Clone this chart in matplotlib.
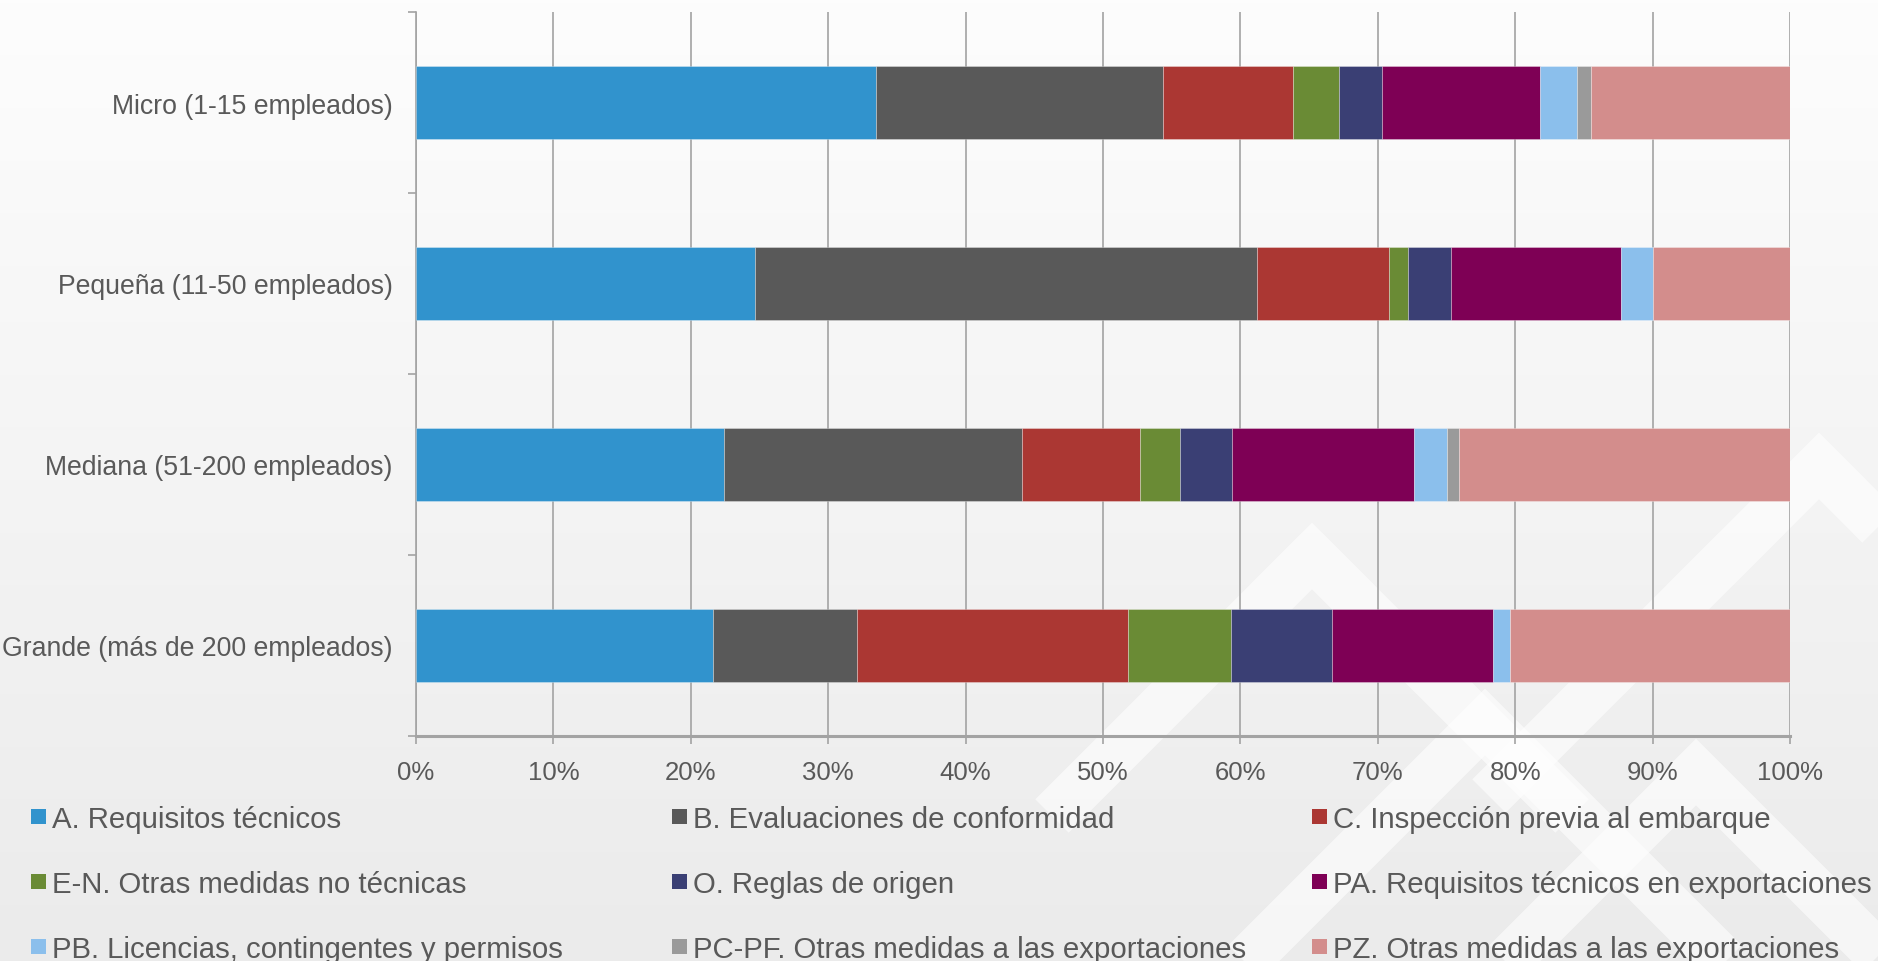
import numpy as np
import matplotlib
matplotlib.use("Agg")
import matplotlib.pyplot as plt
from matplotlib.patches import Rectangle
from matplotlib.colors import LinearSegmentedColormap

plt.rcParams["font.family"] = ["Liberation Sans", "DejaVu Sans"]

# ─── Datos ───────────────────────────────────────────────────────
categorias = [
    "Micro (1-15 empleados)",
    "Pequeña (11-50 empleados)",
    "Mediana (51-200 empleados)",
    "Grande (más de 200 empleados)",
]

series = [
    "A. Requisitos técnicos",
    "B. Evaluaciones de conformidad",
    "C. Inspección previa al embarque",
    "E-N. Otras medidas no técnicas",
    "O. Reglas de origen",
    "PA. Requisitos técnicos en exportaciones",
    "PB. Licencias, contingentes y permisos",
    "PC-PF. Otras medidas a las exportaciones",
    "PZ. Otras medidas a las exportaciones",
]

# porcentajes por categoría (Micro, Pequeña, Mediana, Grande)
a_req = [33.5, 24.7, 22.4, 21.6]
b_eval = [20.9, 36.5, 21.7, 10.5]
c_insp = [9.4, 9.6, 8.6, 19.7]
en_otras = [3.4, 1.4, 2.9, 7.5]
o_origen = [3.1, 3.1, 3.8, 7.4]
pa_req = [11.5, 12.4, 13.2, 11.7]
pb_lic = [2.7, 2.3, 2.4, 1.2]
pcpf_otras = [1.0, 0.0, 0.9, 0.0]
pz_otras = [14.5, 10.0, 24.2, 20.4]

valores = [a_req, b_eval, c_insp, en_otras, o_origen, pa_req, pb_lic, pcpf_otras, pz_otras]

colores = ["#3193cd", "#595959", "#ab3733", "#6a8b35", "#3a3f74",
           "#7e0055", "#8bbfec", "#9a9a9a", "#d38d8c"]

xticks = [0, 10, 20, 30, 40, 50, 60, 70, 80, 90, 100]

TXT = "#595959"
GRID = "#a3a3a3"

W, H = 1878, 962
fig = plt.figure(figsize=(W / 100, H / 100), dpi=100)

# ─── Fondo degradado + marca de agua (grecas blancas a 45°) ──────
bg = fig.add_axes([0, 0, 1, 1], zorder=-10)
grad = np.linspace(0, 1, 256).reshape(-1, 1)
cmap = LinearSegmentedColormap.from_list("bg", ["#fdfdfd", "#ebebeb"])
bg.imshow(grad, aspect="auto", cmap=cmap, extent=[0, W, H, 0])
# vértices superiores de los "^" y largo de brazos (px)
apices = [(1312, 557, 260), (1485, 723, 260), (1696, 773, 220), (1819, 467, 330)]
for ax_, ay_, L in apices:
    bg.plot([ax_ - L, ax_, ax_ + L], [ay_ + L, ay_, ay_ + L], color="white",
            lw=34, alpha=0.6, solid_joinstyle="miter", solid_capstyle="butt")
bg.set_xlim(0, W)
bg.set_ylim(H, 0)
bg.axis("off")

# ─── Gráfico de barras apiladas ──────────────────────────────────
ax = fig.add_axes([416 / W, 1 - 737 / H, (1790 - 416) / W, (737 - 13) / H])
ax.set_facecolor("none")

y = np.arange(len(categorias))
left = np.zeros(len(categorias))
for nombre, vals, col in zip(series, valores, colores):
    vals = np.array(vals)
    ax.barh(y, vals, left=left, height=0.4, color=col, label=nombre,
            edgecolor=(1, 1, 1, 0.35), linewidth=0.6, zorder=3)
    left += vals

ax.set_xlim(0, 100)
ax.set_ylim(len(categorias) - 0.5, -0.5)

ax.set_xticks(xticks)
ax.set_xticklabels([f"{t}%" for t in xticks])
ax.xaxis.grid(True, color=GRID, lw=1.2, zorder=0)
ax.set_axisbelow(True)

ax.set_yticks(y)
ax.set_yticklabels(categorias)
ax.set_yticks(np.arange(-0.5, len(categorias), 1), minor=True)

ax.tick_params(axis="x", colors=GRID, labelcolor=TXT, labelsize=18.5,
               length=6, width=1.2, pad=11)
ax.tick_params(axis="y", which="major", length=0, labelcolor=TXT,
               labelsize=19.2, pad=17)
ax.tick_params(axis="y", which="minor", length=6, width=1.2, colors=GRID)

for s in ["top", "right"]:
    ax.spines[s].set_visible(False)
ax.spines["left"].set_color(GRID)
ax.spines["left"].set_linewidth(1.2)
ax.spines["bottom"].set_color(GRID)
ax.spines["bottom"].set_linewidth(2.2)

# ─── Leyenda (3 columnas, orden por filas) ───────────────────────
col_x = [31, 672, 1312]
row_y = [817, 882, 947]
sq = 15
for i, (nombre, col) in enumerate(zip(series, colores)):
    cx = col_x[i % 3]
    cy = row_y[i // 3]
    fig.patches.append(Rectangle((cx / W, 1 - (cy + sq / 2) / H), sq / W, sq / H,
                                 transform=fig.transFigure, facecolor=col,
                                 edgecolor="none"))
    fig.text((cx + sq + 6) / W, 1 - cy / H, nombre, color=TXT, fontsize=21.2,
             va="center_baseline", ha="left")

fig.savefig("out.png", dpi=100)
